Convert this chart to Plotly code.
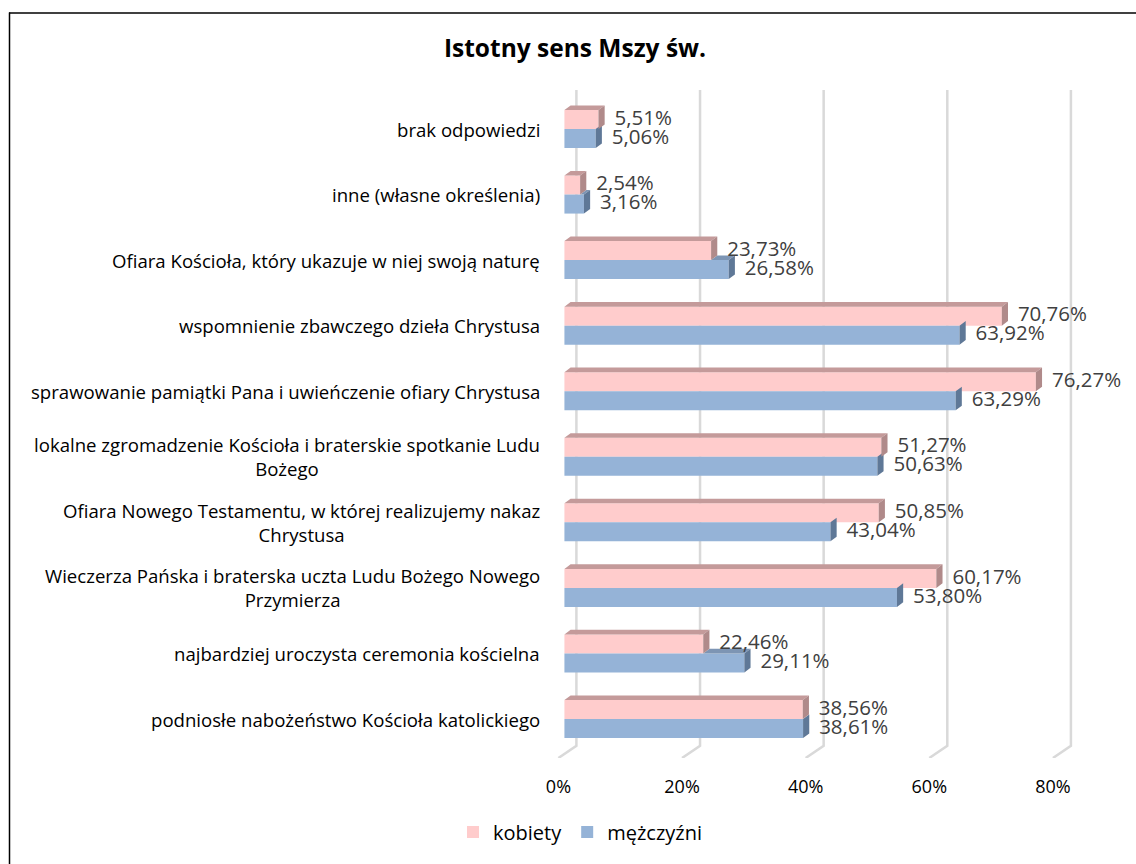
import plotly.graph_objects as go

# ---------------- data ----------------
categories = [
    "podniosłe nabożeństwo Kościoła katolickiego",
    "najbardziej uroczysta ceremonia kościelna",
    "Wieczerza Pańska i braterska uczta Ludu Bożego Nowego<br>Przymierza",
    "Ofiara Nowego Testamentu, w której realizujemy nakaz<br>Chrystusa",
    "lokalne zgromadzenie Kościoła i braterskie spotkanie Ludu<br>Bożego",
    "sprawowanie pamiątki Pana i uwieńczenie ofiary Chrystusa",
    "wspomnienie zbawczego dzieła Chrystusa",
    "Ofiara Kościoła, który ukazuje w niej swoją naturę",
    "inne (własne określenia)",
    "brak odpowiedzi",
]
kobiety = [38.56, 22.46, 60.17, 50.85, 51.27, 76.27, 70.76, 23.73, 2.54, 5.51]
mezczyzni = [38.61, 29.11, 53.80, 43.04, 50.63, 63.29, 63.92, 26.58, 3.16, 5.06]
tick_values = [0, 20, 40, 60, 80]
tick_labels = ["0%", "20%", "40%", "60%", "80%"]
series_names = ["kobiety", "mężczyźni"]

# ---------------- style ----------------
FONT = "Open Sans"
PINK, PINK_TOP, PINK_SIDE = "#FFCCCC", "#C49A9A", "#B08A8A"
BLUE, BLUE_TOP, BLUE_SIDE = "#95B3D7", "#7D95B4", "#5F7897"
BAR_H = 0.29          # bar thickness (category units)
DX, DY = 1.0, 0.07    # 3-D depth offsets (x in %, y in category units)
WALL_DX = 1.94        # back wall offset for gridlines
FOOT_DX = -0.97       # floor front edge offset
LABEL_OFF = 2.6
XMIN, XMAX = -1.2, 82.6
YMIN, YMAX = -0.595, 9.595
L, R, T, B = 557, 61, 90, 106
W, H = 1136, 864


def fmt(v):
    return f"{v:.2f}".replace(".", ",") + "%"


pos = list(range(len(categories)))
pink_y = [p + BAR_H / 2 for p in pos]
blue_y = [p - BAR_H / 2 for p in pos]

fig = go.Figure()

fig.add_trace(go.Bar(
    x=kobiety, y=pink_y, width=BAR_H, orientation="h", name=series_names[0],
    marker=dict(color=PINK, line=dict(width=0)), hoverinfo="skip"))
fig.add_trace(go.Bar(
    x=mezczyzni, y=blue_y, width=BAR_H, orientation="h", name=series_names[1],
    marker=dict(color=BLUE, line=dict(width=0)), hoverinfo="skip"))


def faces():
    bt_x, bt_y, bs_x, bs_y = [], [], [], []
    pt_x, pt_y, ps_x, ps_y = [], [], [], []
    for p, pv, bv in zip(pos, kobiety, mezczyzni):
        ptop, pbot = p + BAR_H, p
        btop, bbot = p, p - BAR_H
        if bv > pv:
            bt_x += [pv, bv, bv + DX, pv + DX, pv, None]
            bt_y += [btop, btop, btop + DY, btop + DY, btop, None]
        bs_x += [bv, bv, bv + DX, bv + DX, bv, None]
        bs_y += [btop, bbot, bbot + DY, btop + DY, btop, None]
        pt_x += [0, pv, pv + DX, DX, 0, None]
        pt_y += [ptop, ptop, ptop + DY, ptop + DY, ptop, None]
        ps_x += [pv, pv, pv + DX, pv + DX, pv, None]
        ps_y += [ptop, pbot, pbot + DY, ptop + DY, ptop, None]
    return [(bt_x, bt_y, BLUE_TOP), (bs_x, bs_y, BLUE_SIDE),
            (pt_x, pt_y, PINK_TOP), (ps_x, ps_y, PINK_SIDE)]


for fx, fy, col in faces():
    fig.add_trace(go.Scatter(
        x=fx, y=fy, mode="lines", fill="toself", fillcolor=col,
        line=dict(width=0, color=col), showlegend=False, hoverinfo="skip"))

# data labels
for vals, ys in ((kobiety, pink_y), (mezczyzni, blue_y)):
    fig.add_trace(go.Scatter(
        x=[v + LABEL_OFF for v in vals], y=ys, mode="text",
        text=[fmt(v) for v in vals], textposition="middle right",
        textfont=dict(family=FONT, size=20.5, color="#404040"),
        showlegend=False, hoverinfo="skip", cliponaxis=False))

pw = W - L - R
ph = H - T - B


def px_x(px):
    return (px - L) / pw


def px_y(py):
    return (H - B - py) / ph


# gridlines in perspective (back wall + floor foot)
shapes = []
for t in tick_values:
    shapes.append(dict(
        type="path", layer="below", xref="x", yref="y",
        path=f"M {t + WALL_DX},{YMAX} L {t + WALL_DX},{-0.41} L {t + FOOT_DX},{YMIN}",
        line=dict(color="#D9D9D9", width=2.5)))

# chart frame (left and top edges visible)
shapes.append(dict(type="line", xref="paper", yref="paper",
                   x0=px_x(9.5), x1=px_x(9.5), y0=px_y(H + 2), y1=px_y(12.5),
                   line=dict(color="#000000", width=1.5), layer="above"))
shapes.append(dict(type="line", xref="paper", yref="paper",
                   x0=px_x(9), x1=px_x(W + 2), y0=px_y(13), y1=px_y(13),
                   line=dict(color="#000000", width=1.5), layer="above"))

# category labels (centered multi-line, right anchored)
annotations = []
for p, c in zip(pos, categories):
    annotations.append(dict(
        x=0, xref="paper", y=p, yref="y", text=c, showarrow=False,
        xanchor="right", yanchor="middle", align="center", xshift=-15,
        font=dict(family=FONT, size=18.6, color="#000000")))

fig.update_layout(
    width=W, height=H,
    paper_bgcolor="white", plot_bgcolor="white",
    margin=dict(l=L, r=R, t=T, b=B, autoexpand=False),
    barmode="overlay",
    title=dict(text="<b>Istotny sens Mszy św.</b>", x=575 / W, xref="container",
               xanchor="center", y=1 - 48 / H, yref="container", yanchor="middle",
               font=dict(family=FONT, size=24.5, color="#000000")),
    xaxis=dict(range=[XMIN, XMAX], tickvals=[t + FOOT_DX for t in tick_values],
               ticktext=tick_labels, showgrid=False, zeroline=False, showline=False,
               ticks="", ticklabelstandoff=16,
               tickfont=dict(family=FONT, size=18, color="#000000")),
    yaxis=dict(range=[YMIN, YMAX], showgrid=False, zeroline=False, showline=False,
               showticklabels=False, ticks=""),
    legend=dict(orientation="h", xref="container", yref="container",
                x=580 / W, xanchor="center", y=1 - 832 / H, yanchor="middle",
                font=dict(family=FONT, size=20, color="#000000"),
                itemwidth=30, traceorder="normal"),
    shapes=shapes, annotations=annotations,
    showlegend=True,
)

fig.write_html("out.html", config={"displayModeBar": False},
               post_script="document.body.style.margin='0';")
